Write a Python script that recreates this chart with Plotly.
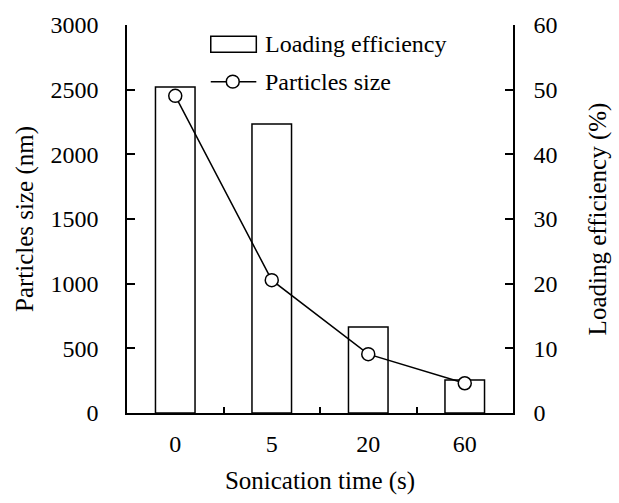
import plotly.graph_objects as go

categories = ["0", "5", "20", "60"]
loading_efficiency = [50.4, 44.7, 13.3, 5.1]
particle_size = [2452, 1027, 455, 230]
legend_labels = ["Loading efficiency", "Particles size"]

FONT = "Liberation Serif"
F = dict(family=FONT, size=24, color="black")
FL = dict(family=FONT, size=24, color="black")
FT = dict(family=FONT, size=25, color="black")
fig = go.Figure()
fig.add_trace(go.Bar(
    x=categories, y=loading_efficiency, name=legend_labels[0],
    marker=dict(color="white", line=dict(color="black", width=1.5)),
    yaxis="y", width=0.41, showlegend=False,
))
fig.add_trace(go.Scatter(
    x=categories, y=particle_size, name=legend_labels[1],
    mode="lines+markers",
    line=dict(color="black", width=1.5),
    marker=dict(symbol="circle", size=13, color="white", line=dict(color="black", width=1.5)),
    yaxis="y2", showlegend=False,
))

# manual legend (paper coordinates)
shapes = [
    dict(type="rect", xref="paper", yref="paper", x0=0.217, x1=0.335, y0=0.930, y1=0.971,
         line=dict(color="black", width=1.5), fillcolor="white"),
    dict(type="line", xref="paper", yref="paper", x0=0.217, x1=0.335, y0=0.854, y1=0.854,
         line=dict(color="black", width=1.5)),
    dict(type="circle", xref="paper", yref="paper", x0=0.274 - 0.0167, x1=0.274 + 0.0167,
         y0=0.854 - 0.0166, y1=0.854 + 0.0166,
         line=dict(color="black", width=1.5), fillcolor="white"),
]
annotations = [
    dict(xref="paper", yref="paper", x=0.352, y=0.951, text=legend_labels[0], showarrow=False,
         xanchor="left", yanchor="middle", font=FL),
    dict(xref="paper", yref="paper", x=0.352, y=0.854, text=legend_labels[1], showarrow=False,
         xanchor="left", yanchor="middle", font=FL),
]

fig.update_layout(
    width=619, height=503,
    margin=dict(l=127, r=102, t=22, b=90),
    paper_bgcolor="white", plot_bgcolor="white",
    font=F,
    showlegend=False,
    shapes=shapes, annotations=annotations,
    xaxis=dict(type="category", showline=True, linecolor="black", linewidth=1.5,
               ticks="inside", tickson="boundaries", ticklen=6, tickwidth=1.5,
               tickcolor="black", showgrid=False, zeroline=False,
               ticklabelstandoff=8, tickfont=F,
               title=dict(text="Sonication time (s)", standoff=16, font=FT)),
    yaxis=dict(side="right", range=[0, 60], dtick=10, showline=True,
               linecolor="black", linewidth=1.5, ticks="inside", ticklen=8,
               tickwidth=1.5, tickcolor="black", showgrid=False, zeroline=False,
               ticklabelstandoff=14, tickfont=F,
               title=dict(text="Loading efficiency (%)", standoff=32, font=FT)),
    yaxis2=dict(overlaying="y", side="left", range=[0, 3000], dtick=500,
                showline=True, linecolor="black", linewidth=1.5, ticks="inside",
                ticklen=8, tickwidth=1.5, tickcolor="black", showgrid=False,
                zeroline=False, ticklabelstandoff=22, tickfont=F,
                title=dict(text="Particles size (nm)", standoff=10, font=FT)),
)

fig.write_html("out.html")
